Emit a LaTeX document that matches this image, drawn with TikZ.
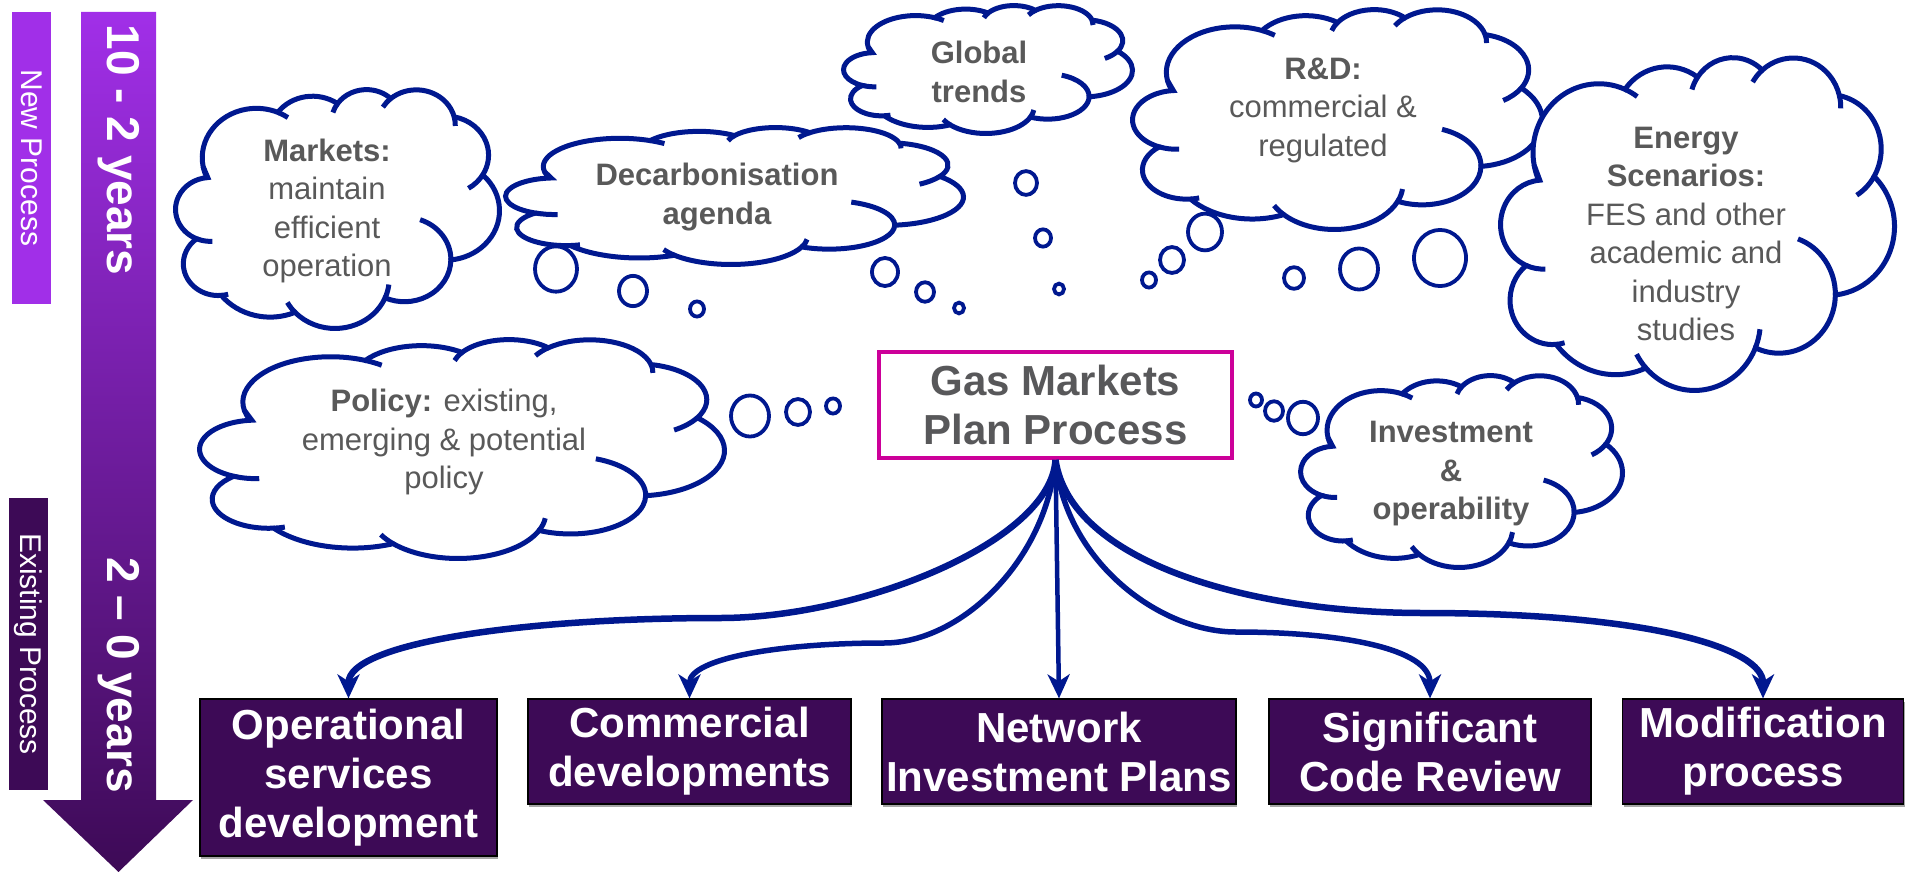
\documentclass[tikz,border=0pt]{standalone}
\usepackage{fontspec}
\setmainfont{Liberation Sans}
\usetikzlibrary{arrows.meta,shadows}

\definecolor{navyline}{RGB}{0,24,143}
\definecolor{cloudtext}{RGB}{89,89,89}
\definecolor{boxtext}{RGB}{88,88,90}
\definecolor{lilac}{RGB}{161,47,232}
\definecolor{darkplum}{RGB}{61,10,86}
\definecolor{gmpframe}{RGB}{204,0,153}

\tikzset{
  thoughtline/.style={draw=navyline, line width=5pt, fill=white},
  pics/thought/.style 2 args={code={
    \begin{scope}[xscale=#1/93.5, yscale=#2/103]
      \filldraw[thoughtline] (-38.77,-18.24)
        arc[start angle=-190.49, delta angle=123.78, x radius=15.632, y radius=21.273]
        arc[start angle=-144.10, delta angle=89.95, x radius=12.345, y radius=16.822]
        arc[start angle=-145.81, delta angle=99.72, x radius=10.104, y radius=13.762]
        arc[start angle=-130.99, delta angle=117.24, x radius=11.243, y radius=15.266]
        arc[start angle=-78.71, delta angle=109.03, x radius=12.345, y radius=16.836]
        arc[start angle=-46.27, delta angle=130.27, x radius=15.683, y radius=21.343]
        arc[start angle=0.625, delta angle=114.03, x radius=13.391, y radius=18.211]
        arc[start angle=22.45, delta angle=115.17, x radius=15.630, y radius=21.331]
        arc[start angle=66.24, delta angle=75.71, x radius=17.870, y radius=24.405]
        arc[start angle=85.06, delta angle=146.74, x radius=10.093, y radius=13.699]
        arc[start angle=113.17, delta angle=152.52, x radius=10.058, y radius=13.762]
        -- cycle;
      % inner folds
      \draw[thoughtline, fill=none]
        (-36.11,13.92) arc[start angle=86.74, end angle=113.17, x radius=10.058, y radius=13.762]
        (-31.55,36.73) arc[start angle=73.6, end angle=85.06, x radius=10.093, y radius=13.699]
        (-12.25,44.54) arc[start angle=137.62, end angle=151.7, x radius=15.630, y radius=21.331]
        (14.82,32.56) arc[start angle=6.45, end angle=22.45, x radius=15.630, y radius=21.331]
        (23.84,4.61) arc[start angle=-70.29, end angle=0.625, x radius=13.391, y radius=18.211]
        (41.91,-14.70) arc[start angle=30.32, end angle=58.07, x radius=12.345, y radius=16.836]
        (33.67,-39.71) arc[start angle=-13.74, end angle=1.12, x radius=11.243, y radius=15.266]
        (13.09,-43.90) arc[start angle=-149.18, end angle=-130.99, x radius=11.243, y radius=15.266]
        (-1.32,-41.60) arc[start angle=-163.49, end angle=-145.81, x radius=10.104, y radius=13.762]
        (-17.22,-41.65) arc[start angle=-66.71, end angle=-54.39, x radius=15.632, y radius=21.273]
        (-37.86,-14.02) arc[start angle=157.65, end angle=169.51, x radius=15.632, y radius=21.273];
    \end{scope}
  }},
  thoughttext/.style={text=cloudtext, align=center, inner sep=0pt,
    font=\fontsize{31}{38.5}\selectfont},
  bubble/.style={draw=navyline, line width=3.8pt, fill=white},
  outcome/.style={rectangle, fill=darkplum, draw=black, line width=1.2pt,
    text=white, align=center, inner sep=0pt, minimum height=105,
    font=\bfseries\fontsize{42}{49}\selectfont,
    drop shadow={shadow xshift=1pt, shadow yshift=-3pt, fill=black!35, opacity=1}},
  flow/.style={draw=navyline, -{Stealth[length=24pt, width=22pt, inset=7pt]}},
  yearlabel/.style={rotate=-90, text=white, font=\bfseries\fontsize{46}{52}\selectfont},
  phase/.style={rotate=-90, text=white, inner sep=0pt, font=\fontsize{30}{36}\selectfont}
}

\begin{document}
\begin{tikzpicture}[x=1pt, y=-1pt]
  \useasboundingbox (0,0) rectangle (1905,872);

  % time line on the left
  \shade[top color=lilac, bottom color=darkplum] (81,12) -- (156,12) -- (156,800)
    -- (193,800) -- (118.5,872) -- (43,800) -- (81,800) -- cycle;
  \node[yearlabel] (longterm) at (118.5,150) {10 - 2 years};
  \node[yearlabel] (shortterm) at (118.5,675) {2 – 0 years};
  \node[phase, fill=lilac, minimum width=292, minimum height=39] (newproc) at (31.5,158) {New Process};
  \node[phase, fill=darkplum, minimum width=292, minimum height=39] (oldproc) at (28.5,644) {Existing Process};

  % inputs
  \pic (markets) at (337.5,209) {thought={324}{239}};
  \node[thoughttext] (markets-txt) at (327,211) {\textbf{Markets:}\\maintain\\efficient\\operation};
  \pic (decarb) at (734.5,196) {thought={458}{137}};
  \node[thoughttext, font=\bfseries\fontsize{31}{38.5}\selectfont] (decarb-txt) at (717,197)
    {Decarbonisation\\agenda};
  \pic (global) at (988,69.5) {thought={289}{128}};
  \node[thoughttext, font=\bfseries\fontsize{31}{38.5}\selectfont] (global-txt) at (979,72)
    {Global\\trends};
  \pic (rnd) at (1337.5,119.5) {thought={410}{220}};
  \node[thoughttext] (rnd-txt) at (1323,110) {\textbf{R\&D:}\\commercial \&\\regulated};
  \pic (scenarios) at (1697.5,224) {thought={394}{333}};
  \node[thoughttext] (scenarios-txt) at (1686,234)
    {\textbf{Energy}\\\textbf{Scenarios:}\\FES and other\\academic and\\industry\\studies};
  \pic (policy) at (462,449) {thought={525}{219}};
  \node[thoughttext] (policy-txt) at (444,442) {\textbf{Policy:} existing,\\emerging \& potential\\policy};
  \pic (invest) at (1461.5,471.5) {thought={322}{192}};
  \node[thoughttext, font=\bfseries\fontsize{31}{38.5}\selectfont] (invest-txt) at (1451,474)
    {Investment\\\&\\operability};

  \foreach \bx/\by/\br in {556/269/21, 633/291/14, 697/309/7, 885/272/13, 925/292/9,
      959/308/5, 1026/183/11, 1043/238/8, 1059/289/5, 1149/280/7, 1172/260/12,
      1205/232/17, 1294/278/10, 1359/269/19, 1440/258/26, 750/416/19, 798/412/12,
      833/406/7, 1256/400/6, 1274/411/9, 1303/418/15}
    \draw[bubble] (\bx,\by) ellipse ({\br} and {1.08*\br});

  \node[draw=gmpframe, line width=4pt, minimum width=353, minimum height=106,
    text=boxtext, align=center, font=\bfseries\fontsize{42}{49}\selectfont] (gmp) at (1055.5,405)
    {Gas Markets\\Plan Process};

  % outputs
  \node[outcome, minimum width=297, minimum height=157] (ops) at (348.5,777.5)
    {Operational\\services\\development};
  \node[outcome, minimum width=323] (comm) at (689.5,751.5) {Commercial\\developments};
  \node[outcome, minimum width=354] (nip) at (1059,751.5) {Network\\Investment Plans};
  \node[outcome, minimum width=322] (scr) at (1430,751.5) {Significant\\Code Review};
  \node[outcome, minimum width=281] (mods) at (1763,751.5) {Modification\\process};

  \draw[flow, line width=6.5pt] (gmp.south) .. controls +(-5,82) and +(140,0) .. (720,618)
    .. controls +(-200,0) and +(0,-55) .. (ops.north);
  \draw[flow, line width=5.5pt] (gmp.south) .. controls +(-10,102) and +(76,0) .. (884,643)
    .. controls +(-104,0) and +(0,-40) .. (comm.north);
  \draw[flow, line width=4.5pt] (gmp.south) -- (nip.north);
  \draw[flow, line width=5.5pt] (gmp.south) .. controls +(10,102) and +(-76,0) .. (1236,632)
    .. controls +(104,0) and +(0,-50) .. (scr.north);
  \draw[flow, line width=6.5pt] (gmp.south) .. controls +(15,102) and +(-173,0) .. (1423,613)
    .. controls +(227,0) and +(0,-50) .. (mods.north);
\end{tikzpicture}
\end{document}
